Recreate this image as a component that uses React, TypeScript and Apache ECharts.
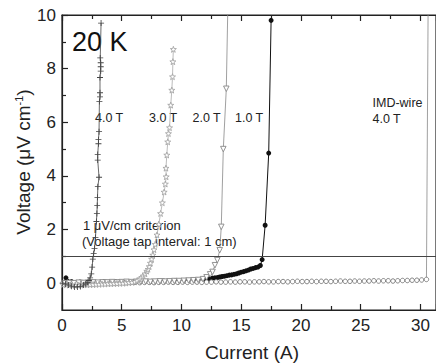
import React, { useEffect, useRef } from "react";
import * as echarts from "echarts";

// ---- data ----
const xTickLabels = [0, 5, 10, 15, 20, 25, 30];
const yTickLabels = [0, 2, 4, 6, 8, 10];
const yMinorTicks = [1, 3, 5, 7, 9];
const criterion = 1;

// 1.0 T (filled black circles)
const x1 = [0.33, 0.8, 1.5, 2.5, 3.5, 4.5, 5.5, 6.5, 7.5, 8.5, 9.5, 10.5, 11.3,
  12.0, 12.2, 12.4, 12.6, 12.8, 13.0, 13.2, 13.4, 13.6, 13.8, 14.0, 14.2, 14.4, 14.6, 14.8, 15.0, 15.2, 15.4, 15.6, 15.8, 16.0, 16.2, 16.4, 16.6,
  16.75, 17.0, 17.3, 17.5];
const y1 = [0.2, 0.06, 0.04, 0.04, 0.05, 0.05, 0.06, 0.06, 0.07, 0.08, 0.09, 0.1, 0.12,
  0.14, 0.15, 0.17, 0.19, 0.2, 0.21, 0.23, 0.25, 0.26, 0.28, 0.3, 0.31, 0.33, 0.35, 0.38, 0.41, 0.43, 0.46, 0.49, 0.53, 0.55, 0.58, 0.6, 0.66,
  0.88, 2.16, 4.85, 9.8];

// 2.0 T (open down triangles)
const x2 = [0.2, 0.6, 1.0, 1.4, 1.8, 2.2, 2.6, 3.0, 3.4, 3.8, 4.2, 4.6, 5.0, 5.4, 5.8, 6.2, 6.6, 7.0, 7.4, 7.8, 8.2, 8.6, 9.0, 9.4, 9.8, 10.2, 10.6, 11.0, 11.4, 11.8,
  12.1, 12.4, 12.6, 12.8, 13.0, 13.2, 13.33, 13.5, 13.75, 13.9];
const y2 = [0.0, 0.01, 0.0, 0.02, 0.01, 0.02, 0.03, 0.02, 0.03, 0.03, 0.04, 0.03, 0.04, 0.05, 0.04, 0.05, 0.05, 0.06, 0.05, 0.06, 0.07, 0.06, 0.07, 0.08, 0.08, 0.09, 0.1, 0.11, 0.12, 0.15,
  0.22, 0.33, 0.42, 0.67, 0.86, 1.23, 2.1, 5.0, 7.25, 10.8];

// 3.0 T (light grey stars)
const x3 = [0.1, 0.35, 0.6, 0.85, 1.1, 1.35, 1.6, 1.85, 2.1, 2.35, 2.6, 2.85, 3.1, 3.35, 3.6, 3.85, 4.1, 4.35, 4.6, 4.85, 5.1, 5.35, 5.6, 5.85, 6.1,
  6.3, 6.5, 6.65, 6.8, 6.95, 7.1, 7.2, 7.3, 7.4, 7.5, 7.6, 7.7, 7.8,
  7.95, 8.1, 8.25, 8.4, 8.55, 8.65, 8.72, 8.7, 8.77, 8.85, 8.91, 9.0, 9.1, 9.19, 9.25, 9.28, 9.32];
const y3 = [-0.05, -0.06, -0.07, -0.07, -0.08, -0.07, -0.07, -0.06, -0.06, -0.05, -0.05, -0.04, -0.04, -0.03, -0.03, -0.02, -0.02, -0.01, -0.01, 0.0, 0.0, 0.01, 0.02, 0.03, 0.05,
  0.1, 0.15, 0.2, 0.27, 0.35, 0.45, 0.52, 0.62, 0.75, 0.9, 1.05, 1.25, 1.45,
  1.8, 2.2, 2.6, 3.0, 3.4, 3.7, 3.97, 4.29, 4.78, 5.27, 5.58, 5.8, 6.64, 7.2, 7.7, 8.26, 8.72];

// 4.0 T (dark crosses)
const x4 = [0.05, 0.3, 0.55, 0.8, 1.05, 1.3, 1.55, 1.8,
  2.0, 2.15, 2.25, 2.35, 2.45, 2.52, 2.58, 2.65, 2.72, 2.8, 2.88, 2.92, 2.95, 2.97, 3.0, 3.1,
  2.99, 2.99, 3.05, 3.05, 3.1, 3.13, 3.18, 3.18, 3.18, 3.24, 3.24, 3.24, 3.2, 3.27];
const y4 = [0.0, -0.03, -0.07, -0.11, -0.14, -0.14, -0.12, -0.07,
  -0.03, 0.03, 0.1, 0.2, 0.35, 0.6, 0.9, 1.1, 1.3, 1.7, 2.3, 2.6, 2.9, 3.2, 3.6, 3.95,
  4.59, 4.8, 5.2, 5.35, 5.65, 6.77, 6.95, 7.1, 7.67, 7.91, 8.07, 8.22, 8.4, 9.7];

// IMD-wire 4.0 T (open grey circles)
const xImd = [0.1, 0.5, 0.9, 1.3, 1.7, 2.1, 2.5, 2.9, 3.3, 3.7, 4.1, 4.5, 4.9, 5.3, 5.7, 6.1, 6.5, 6.9, 7.3, 7.7,
  8.1, 8.5, 8.9, 9.3, 9.7, 10.1, 10.5, 10.9, 11.3, 11.7,
  12.1, 12.5, 12.9, 13.3, 13.7, 14.1, 14.5, 14.9, 15.3, 15.7,
  16.1, 16.5, 16.9, 17.3, 17.7, 18.1, 18.5, 18.9, 19.3, 19.7,
  20.1, 20.5, 20.9, 21.3, 21.7, 22.1, 22.5, 22.9, 23.3, 23.7,
  24.1, 24.5, 24.9, 25.3, 25.7, 26.1, 26.5, 26.9, 27.3, 27.7,
  28.1, 28.5, 28.9, 29.3, 29.7, 30.1, 30.5, 30.65];
const yImd = [0.02, 0.01, 0.02, 0.01, 0.02, 0.02, 0.01, 0.02, 0.02, 0.03, 0.02, 0.02, 0.03, 0.02, 0.03, 0.03, 0.02, 0.03, 0.03, 0.02,
  0.03, 0.03, 0.04, 0.03, 0.03, 0.04, 0.03, 0.04, 0.04, 0.03,
  0.04, 0.04, 0.05, 0.04, 0.04, 0.05, 0.04, 0.05, 0.05, 0.04,
  0.05, 0.05, 0.06, 0.05, 0.05, 0.06, 0.06, 0.05, 0.06, 0.07,
  0.06, 0.06, 0.07, 0.06, 0.07, 0.07, 0.06, 0.07, 0.08, 0.07,
  0.07, 0.08, 0.07, 0.08, 0.08, 0.09, 0.08, 0.09, 0.09, 0.08,
  0.09, 0.1, 0.1, 0.11, 0.11, 0.12, 0.14, 11];

const pairs = (xs: number[], ys: number[]) => xs.map((x, i) => [x, ys[i]]);

const FONT = "Liberation Sans, Arial, sans-serif";
const TXT = "#222";
const AX = "#222";
const GRID = { left: 62, top: 15, width: 374, height: 295 };
const X_MAX = 31.3;
const STAR = "path://M5,0L6.2,3.5L10,3.6L7,5.9L8.1,9.5L5,7.4L1.9,9.5L3,5.9L0,3.6L3.8,3.5Z";
const PLUS = "path://M4.3,0H5.7V4.3H10V5.7H5.7V10H4.3V5.7H0V4.3H4.3Z";

export default function App() {
  const ref = useRef<HTMLDivElement>(null);
  useEffect(() => {
    if (!ref.current) return;
    const chart = echarts.init(ref.current, undefined, { renderer: "svg" });
    const lineStyle = { color: AX, width: 1.2 };
    chart.setOption({
      animation: false,
      grid: [
        { ...GRID, show: true, borderColor: AX, borderWidth: 1.2 },
        { ...GRID },
      ],
      xAxis: [
        {
          type: "value", gridIndex: 0, position: "bottom", min: 0, max: X_MAX, interval: 5,
          splitLine: { show: false },
          axisLine: { show: true, onZero: false, lineStyle },
          axisTick: { show: true, inside: true, length: 6, lineStyle },
          minorTick: { show: true, splitNumber: 2, length: 4, lineStyle },
          axisLabel: { show: true, customValues: xTickLabels, fontSize: 17, color: TXT, fontFamily: FONT, margin: 7 },
        },
        {
          type: "value", gridIndex: 1, position: "top", min: 0, max: X_MAX, interval: 5,
          splitLine: { show: false },
          axisLine: { show: true, onZero: false, lineStyle },
          axisTick: { show: true, inside: true, length: 6, lineStyle },
          minorTick: { show: true, splitNumber: 2, length: 4, lineStyle },
          axisLabel: { show: false },
        },
      ],
      yAxis: [
        {
          type: "value", gridIndex: 0, position: "left", min: -1, max: 10,
          splitLine: { show: false },
          axisLine: { show: true, onZero: false, lineStyle },
          axisTick: { show: true, inside: true, length: 6, customValues: yTickLabels, lineStyle },
          axisLabel: { show: true, customValues: yTickLabels, fontSize: 17, color: TXT, fontFamily: FONT, margin: 6 },
        },
        {
          type: "value", gridIndex: 1, position: "left", min: -1, max: 10,
          splitLine: { show: false },
          axisLine: { show: false, onZero: false },
          axisTick: { show: true, inside: true, length: 4, customValues: yMinorTicks, lineStyle },
          axisLabel: { show: false },
        },
      ],
      series: [
        {
          name: "1.0 T", type: "line", xAxisIndex: 0, yAxisIndex: 0,
          data: pairs(x1, y1),
          symbol: "circle", symbolSize: 5,
          lineStyle: { color: "#111", width: 1 },
          itemStyle: { color: "#111", borderWidth: 0 },
        },
        {
          name: "IMD-wire 4.0 T", type: "line", xAxisIndex: 0, yAxisIndex: 0,
          data: pairs(xImd, yImd),
          symbol: "circle", symbolSize: 4.5,
          lineStyle: { color: "#888", width: 0.8 },
          itemStyle: { color: "#fff", borderColor: "#777", borderWidth: 0.9 },
          markLine: {
            silent: true, symbol: "none", label: { show: false },
            lineStyle: { color: "#444", width: 1, type: "solid" },
            data: [{ yAxis: criterion }],
          },
        },
        {
          name: "2.0 T", type: "line", xAxisIndex: 0, yAxisIndex: 0,
          data: pairs(x2, y2),
          symbol: "triangle", symbolRotate: 180, symbolSize: 5.5,
          lineStyle: { color: "#888", width: 0.8 },
          itemStyle: { color: "#fff", borderColor: "#888", borderWidth: 0.9 },
        },
        {
          name: "3.0 T", type: "line", xAxisIndex: 0, yAxisIndex: 0,
          data: pairs(x3, y3),
          symbol: STAR, symbolSize: 6,
          lineStyle: { color: "#aaa", width: 0.8 },
          itemStyle: { color: "#fff", borderColor: "#a5a5a5", borderWidth: 0.9 },
        },
        {
          name: "4.0 T", type: "line", xAxisIndex: 0, yAxisIndex: 0,
          data: pairs(x4, y4),
          symbol: PLUS, symbolSize: 6,
          lineStyle: { color: "#444", width: 0.8 },
          itemStyle: { color: "#444", borderWidth: 0 },
        },
      ],
      graphic: [
        {
          type: "text", rotation: Math.PI / 2,
          x: 23, y: 162,
          style: {
            text: "{a|Voltage (μV cm}{s|-1}{a|)}",
            align: "center", verticalAlign: "middle",
            rich: {
              a: { fontSize: 19, fontFamily: FONT, fill: TXT, color: TXT },
              s: { fontSize: 11, fontFamily: FONT, fill: TXT, color: TXT, padding: [0, 0, 9, 0] },
            },
          },
        },
        { type: "text", x: 252, y: 352, style: { text: "Current (A)", font: `19px ${FONT}`, fill: TXT, align: "center", verticalAlign: "middle" } },
        { type: "text", x: 72, y: 42, style: { text: "20 K", font: `27px ${FONT}`, fill: "#111", align: "left", verticalAlign: "middle" } },
        { type: "text", x: 95, y: 118, style: { text: "4.0 T", font: `12.5px ${FONT}`, fill: TXT, align: "left", verticalAlign: "middle" } },
        { type: "text", x: 149, y: 118, style: { text: "3.0 T", font: `12.5px ${FONT}`, fill: TXT, align: "left", verticalAlign: "middle" } },
        { type: "text", x: 192.5, y: 118, style: { text: "2.0 T", font: `12.5px ${FONT}`, fill: TXT, align: "left", verticalAlign: "middle" } },
        { type: "text", x: 235, y: 118, style: { text: "1.0 T", font: `12.5px ${FONT}`, fill: TXT, align: "left", verticalAlign: "middle" } },
        { type: "text", x: 372.5, y: 103, style: { text: "IMD-wire", font: `12.5px ${FONT}`, fill: TXT, align: "left", verticalAlign: "middle" } },
        { type: "text", x: 372.5, y: 119, style: { text: "4.0 T", font: `12.5px ${FONT}`, fill: TXT, align: "left", verticalAlign: "middle" } },
        { type: "text", x: 83, y: 225, style: { text: "1 μV/cm criterion", font: `13px ${FONT}`, fill: TXT, align: "left", verticalAlign: "middle" } },
        { type: "text", x: 82, y: 241.5, style: { text: "(Voltage tap interval: 1 cm)", font: `13px ${FONT}`, fill: TXT, align: "left", verticalAlign: "middle" } },
      ],
    });
    return () => chart.dispose();
  }, []);
  return (
    <div
      ref={ref}
      style={{ position: "absolute", left: 0, top: 0, width: 436, height: 363, background: "#fff" }}
    />
  );
}
